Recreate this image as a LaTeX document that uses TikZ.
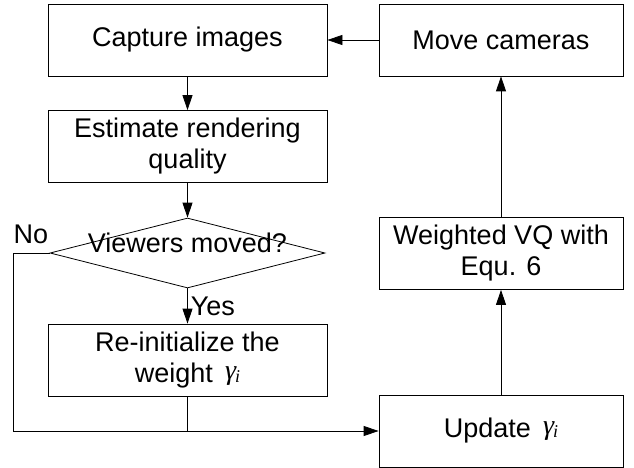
\documentclass[tikz,border=0pt]{standalone}
\usepackage{fontspec}
\setmainfont{Liberation Sans}
\newfontfamily\gfont{Liberation Serif}
\newcommand{\gami}{\,\raisebox{3pt}{\fontsize{28}{28}\selectfont\gfont\itshape γ}\kern-1pt{\fontsize{18}{18}\selectfont\gfont\itshape i}}
\usetikzlibrary{shapes.geometric,arrows.meta}

\begin{document}
\begin{tikzpicture}[x=1pt,y=-1pt,line width=0.8pt,
        >={Triangle[length=15pt,width=10pt]},
        font=\fontsize{27}{31}\selectfont]
    \useasboundingbox (0,0) rectangle (634,468);
    \begin{scope}[every node/.style={rectangle,draw,minimum height=72pt,inner sep=0pt,align=center}]
        \node[minimum width=279pt] (capture) at (187.5,40) {Capture images};
        \node[minimum width=279pt] (estimate) at (187.5,146.5) {Estimate rendering\\quality};
        \node[minimum width=279pt] (reinit) at (187.5,360) {Re-initialize the\\weight \gami};
        \node[minimum width=244pt] (move) at (501,40) {Move cameras};
        \node[minimum width=244pt] (weighted) at (501,253.5) {Weighted VQ with\\Equ. 6};
        \node[minimum width=244pt] (update) at (501,431) {Update \gami};
    \end{scope}
    \node[diamond,draw,minimum width=275pt,minimum height=70pt,inner sep=0pt,
        label={[yshift=10pt]center:Viewers moved?}] (viewers) at (187.5,253) {};
    \node (no) at (31,234) {No};
    \coordinate (noturn) at (13,431);

    \begin{scope}
        \path [->] (capture) edge (estimate);
        \path [->] (estimate) edge (viewers);
        \path [->] (viewers) edge node[anchor=west,inner sep=3pt] (yes) {Yes} (reinit);
        \path [->] (move) edge (capture);
        \path [->] (update) edge (weighted);
        \path [->] (weighted) edge (move);
        \draw [->] (viewers.west) -| (noturn) -- (update.west);
        \draw (reinit.south) -- (reinit.south |- update.west);
    \end{scope}
\end{tikzpicture}
\end{document}
